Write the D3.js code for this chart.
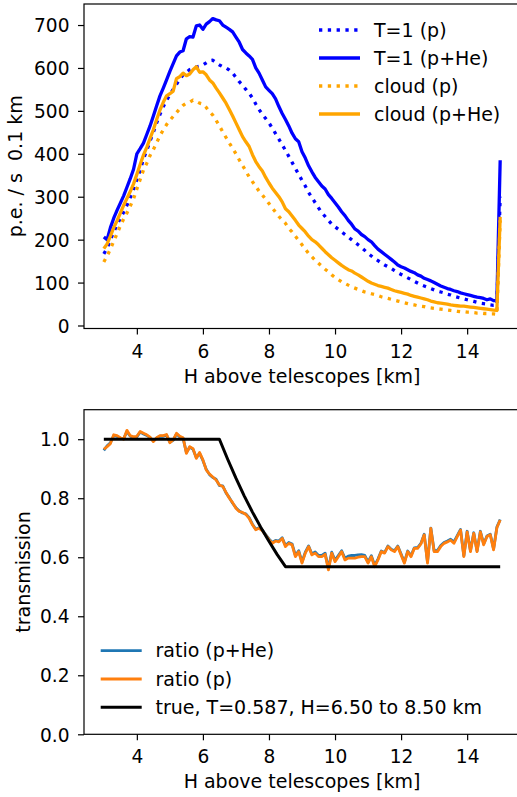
<!DOCTYPE html>
<html>
<head>
<meta charset="utf-8">
<style>
  body { margin: 0; background: #fff; }
  svg text { font-family: "DejaVu Sans", sans-serif; fill: #000; }
  .tick text { font-size: 18.6px; }
  .label { font-size: 19px; }
</style>
</head>
<body>
<svg id="fig" width="517" height="797"></svg>
<script src="https://cdnjs.cloudflare.com/ajax/libs/d3/7.8.5/d3.min.js"></script>
<script>
// sample heights, 3.0 .. 15.0 km in 0.1 km steps
const heights = d3.range(121).map(i => +(3 + i * 0.1).toFixed(1));

// top panel: p.e. / s per 0.1 km
const t1P = [
  167,180,200,218,234,250,264,280,298,318,
  340,362,388,408,430,450,472,492,510,524,
  538,550,562,574,584,590,596,599,602,604,
  607,612,617,618,612,607,603,600,595,588,
  578,568,560,550,541,530,516,503,492,482,
  472,460,447,434,421,408,394,380,366,352,
  338,325,310,298,286,274,263,254,245,236,
  230,224,218,212,206,200,194,188,182,175,
  168,162,156,151,146,141,137,133,128,123,
  119,115,111,107,103,99,95,92,89,86,
  83,80,78,76,73,71,68,66,64,62,
  60,58,56,54,52,51,50,48,47,47,300];
const t1PHe = [
  206,200,228,250,268,285,302,322,342,364,
  400,412,425,445,465,488,512,535,553,572,
  592,610,628,637,640,668,673,672,698,700,
  690,702,708,715,712,710,700,695,690,684,
  672,660,643,635,628,620,600,588,572,556,
  548,540,528,510,494,480,465,448,435,428,
  405,390,372,358,345,335,325,318,305,296,
  286,276,265,256,245,236,225,220,212,207,
  200,195,186,178,172,166,160,154,148,141,
  137,134,130,126,123,118,115,110,107,104,
  100,96,92,89,86,84,81,79,76,74,
  72,70,68,66,65,63,60,62,58,58,385];
const cloudP = [
  148,162,178,196,214,232,248,262,278,295,
  318,340,362,378,396,410,426,442,456,468,
  478,487,496,505,513,518,520,525,522,518,
  516,508,498,490,478,465,451,438,425,413,
  400,386,373,360,346,335,324,313,304,294,
  284,274,264,254,246,238,226,218,208,198,
  188,178,168,160,152,145,138,131,125,118,
  112,107,102,98,94,90,87,84,81,78,
  76,74,72,70,67,65,63,61,59,57,
  55,53,51,49,48,46,45,44,42,41,
  40,39,38,37,36,35,34,33,32,32,
  31,31,30,29,29,28,28,27,27,26,245];
const cloudPHe = [
  179,190,208,228,244,262,280,296,312,330,
  352,375,397,415,436,456,480,502,520,535,
  540,546,575,580,588,582,586,596,603,590,
  591,584,572,565,553,542,530,518,503,488,
  472,456,440,428,417,398,382,370,360,345,
  332,320,310,300,288,272,265,255,245,234,
  226,218,208,200,195,188,180,172,165,158,
  152,146,140,135,130,127,122,118,113,108,
  103,99,96,93,91,89,87,84,81,79,
  77,75,73,70,68,66,64,62,60,57,
  55,53,52,51,50,48,47,46,45,45,
  44,43,42,41,40,39,38,37,36,35,253];

// bottom panel: transmission
const ratioP = [
  0.966,0.975,0.985,1.015,1.012,1.005,1.000,1.030,1.012,1.008,
  1.010,1.026,1.020,1.015,1.007,0.992,1.005,1.012,1.012,1.016,
  0.988,0.998,1.020,1.010,1.005,0.952,0.975,0.968,0.935,0.955,
  0.930,0.896,0.882,0.872,0.862,0.845,0.840,0.820,0.800,0.785,
  0.766,0.755,0.752,0.745,0.732,0.710,0.693,0.698,0.690,0.675,
  0.660,0.647,0.655,0.652,0.664,0.636,0.647,0.642,0.602,0.619,
  0.580,0.614,0.636,0.608,0.614,0.602,0.602,0.610,0.557,0.614,
  0.585,0.602,0.619,0.591,0.597,0.597,0.597,0.600,0.602,0.602,
  0.580,0.602,0.568,0.591,0.619,0.614,0.636,0.625,0.619,0.636,
  0.608,0.580,0.619,0.602,0.630,0.630,0.645,0.676,0.580,0.698,
  0.619,0.619,0.636,0.647,0.652,0.658,0.647,0.670,0.692,0.602,
  0.686,0.619,0.681,0.619,0.686,0.642,0.670,0.676,0.625,0.700,0.726];
const ratioPHe = [
  0.962,0.978,0.988,1.012,1.010,1.003,1.002,1.026,1.010,1.006,
  1.008,1.024,1.018,1.013,1.005,0.994,1.004,1.010,1.010,1.014,
  0.990,0.996,1.018,1.008,1.003,0.955,0.973,0.966,0.938,0.952,
  0.928,0.898,0.880,0.870,0.864,0.843,0.842,0.818,0.802,0.783,
  0.768,0.757,0.750,0.747,0.734,0.712,0.695,0.700,0.692,0.677,
  0.662,0.650,0.657,0.655,0.666,0.640,0.650,0.645,0.606,0.622,
  0.584,0.617,0.638,0.611,0.618,0.606,0.606,0.614,0.562,0.617,
  0.590,0.606,0.622,0.596,0.604,0.606,0.606,0.608,0.609,0.606,
  0.584,0.605,0.572,0.594,0.621,0.616,0.638,0.627,0.622,0.638,
  0.611,0.583,0.621,0.605,0.632,0.633,0.647,0.678,0.584,0.699,
  0.622,0.623,0.640,0.650,0.655,0.661,0.652,0.673,0.694,0.605,
  0.688,0.622,0.683,0.621,0.688,0.645,0.672,0.678,0.628,0.702,0.728];
const trueH = [3, 6.5, 6.75, 7, 7.25, 7.5, 7.75, 8, 8.25, 8.5, 15];
const trueT = [1, 1, 0.932, 0.868, 0.808, 0.753, 0.702, 0.654, 0.609, 0.568, 0.568];

const xTicks = [4, 6, 8, 10, 12, 14];
const topYTicks = [0, 100, 200, 300, 400, 500, 600, 700];
const botYTicks = [0, 0.2, 0.4, 0.6, 0.8, 1.0];

const svg = d3.select("#fig");
const left = 84, right = 520;

function panel(top, bottom, xDomain, yDomain, yTicks, yFmt, yLabel, yLabelX) {
  const x = d3.scaleLinear().domain(xDomain).range([left, right]);
  const y = d3.scaleLinear().domain(yDomain).range([bottom, top]);

  const gx = svg.append("g")
    .attr("transform", `translate(0,${bottom})`)
    .call(d3.axisBottom(x).tickValues(xTicks).tickSize(6).tickFormat(d3.format("d")));
  gx.selectAll(".tick text").attr("y", 29).attr("dy", 0);

  const gy = svg.append("g")
    .attr("transform", `translate(${left},0)`)
    .call(d3.axisLeft(y).tickValues(yTicks).tickSize(6).tickFormat(yFmt));
  gy.selectAll(".tick text").attr("x", -14.5).attr("dy", "0.36em");

  [gx, gy].forEach(g => {
    g.select(".domain").remove();
    g.selectAll(".tick line").attr("stroke", "#000").attr("stroke-width", 1.2);
  });

  // frame
  svg.append("rect")
    .attr("x", left).attr("y", top)
    .attr("width", right - left).attr("height", bottom - top)
    .attr("fill", "none").attr("stroke", "#000").attr("stroke-width", 1.2);

  svg.append("text").attr("class", "label")
    .attr("text-anchor", "middle")
    .attr("x", (left + right) / 2).attr("y", bottom + 54)
    .text("H above telescopes [km]");

  svg.append("text").attr("class", "label")
    .attr("text-anchor", "middle")
    .style("white-space", "pre")
    .attr("transform", `translate(${yLabelX},${(top + bottom) / 2}) rotate(-90)`)
    .text(yLabel);

  return { x, y };
}

// ---- top panel ----
const A = panel(4, 328.5, [2.4, 15.6], [-7, 749], topYTicks, d3.format("d"), "p.e. / s  0.1 km", 22);

const topSeries = [
  { name: "T=1 (p)", values: t1P, color: "blue", dash: "3.3,5.5" },
  { name: "T=1 (p+He)", values: t1PHe, color: "blue", dash: null },
  { name: "cloud (p)", values: cloudP, color: "orange", dash: "3.3,5.5" },
  { name: "cloud (p+He)", values: cloudPHe, color: "orange", dash: null }
];

const lineA = d3.line().x(d => A.x(d[0])).y(d => A.y(d[1]));
topSeries.forEach(s => {
  svg.append("path")
    .datum(heights.map((h, i) => [h, s.values[i]]))
    .attr("d", lineA)
    .attr("fill", "none")
    .attr("stroke", s.color)
    .attr("stroke-width", 3.3)
    .attr("stroke-linejoin", "round")
    .attr("stroke-dasharray", s.dash);
});

const legA = svg.append("g");
topSeries.forEach((s, i) => {
  const yy = 30 + i * 28;
  legA.append("line")
    .attr("x1", 319).attr("x2", 360).attr("y1", yy).attr("y2", yy)
    .attr("stroke", s.color).attr("stroke-width", 3.3)
    .attr("stroke-dasharray", s.dash);
  legA.append("text").attr("class", "label")
    .attr("x", 374).attr("y", yy + 6.5).text(s.name);
});

// ---- bottom panel ----
const B = panel(409.7, 734.3, [2.4, 15.6], [0, 1.1], botYTicks, d3.format(".1f"), "transmission", 30);

const botSeries = [
  { name: "ratio (p+He)", pts: heights.map((h, i) => [h, ratioPHe[i]]), color: "#1f77b4", w: 2.8 },
  { name: "ratio (p)", pts: heights.map((h, i) => [h, ratioP[i]]), color: "#ff7f0e", w: 2.8 },
  { name: "true, T=0.587, H=6.50 to 8.50 km", pts: trueH.map((h, i) => [h, trueT[i]]), color: "#000", w: 3 }
];

const lineB = d3.line().x(d => B.x(d[0])).y(d => B.y(d[1]));
botSeries.forEach(s => {
  svg.append("path")
    .datum(s.pts)
    .attr("d", lineB)
    .attr("fill", "none")
    .attr("stroke", s.color)
    .attr("stroke-width", s.w)
    .attr("stroke-linejoin", "round");
});

const legB = svg.append("g");
botSeries.forEach((s, i) => {
  const yy = 650.7 + i * 28.3;
  legB.append("line")
    .attr("x1", 100.7).attr("x2", 141.7).attr("y1", yy).attr("y2", yy)
    .attr("stroke", s.color).attr("stroke-width", s.w);
  legB.append("text").attr("class", "label")
    .attr("x", 155.5).attr("y", yy + 6.5).text(s.name);
});
</script>
</body>
</html>
